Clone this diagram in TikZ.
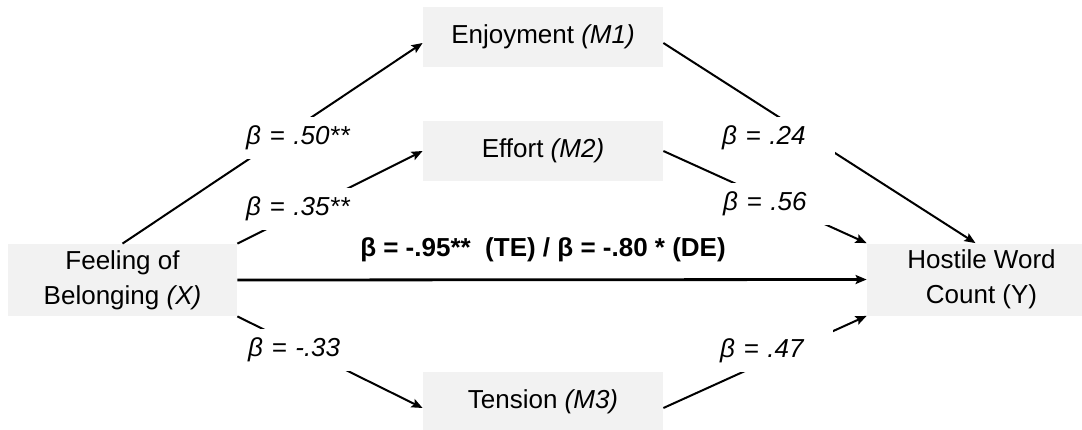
\documentclass[tikz,border=0pt]{standalone}
\usepackage{fontspec}
\setmainfont{Liberation Sans}
\usetikzlibrary{arrows.meta,calc}
\definecolor{boxGray}{HTML}{F2F2F2}
\tikzset{
  % Variable boxes: flat grey patch, no outline.
  med/box/.style={
    fill=boxGray, draw=none, inner sep=0pt, align=center,
    font=\fontsize{13}{17.5}\selectfont, text=black
  },
  % Paths between the variables.
  med/arrow/.style={
    -{Stealth[length=5.5pt,width=4.5pt,inset=1pt]}, line width=1pt, draw=black
  },
  % Coefficients sit on a white patch that breaks the path under them.
  med/coef/.style={
    fill=white, inner xsep=1.5pt, inner ysep=0pt, minimum height=21pt,
    text width=55pt, align=left, font=\fontsize{13}{15}\selectfont\itshape
  },
}

\begin{document}
\begin{tikzpicture}[x=0.5pt,y=-0.5pt,
  var/.style={med/box, minimum width=114.5pt, minimum height=36pt},
  mdr/.style={med/box, minimum width=120pt, minimum height=30pt},
  total/.style={inner sep=0pt, font=\fontsize{13}{15}\selectfont\bfseries}]
  \useasboundingbox (0,0) rectangle (1082,429);

  \node[var] (x) at (122.5,280) {Feeling of\\Belonging \textit{(X)}};
  \node[var] (y) at (981.5,279.5) {Hostile Word\\Count (Y)};
  \node[mdr] (m1) at (543,37) {Enjoyment \textit{(M1)}};
  \node[mdr] (m2) at (543,151) {Effort \textit{(M2)}};
  \node[mdr] (m3) at (543,402) {Tension \textit{(M3)}};

  % a paths
  \draw[med/arrow] (x.north) -- ($(m1.west)+(0,6)$);
  \draw[med/arrow] (x.north east) -- (m2.west);
  \draw[med/arrow] (x.south east) -- ($(m3.west)+(0,6)$);
  % b paths
  \draw[med/arrow] ($(m1.east)+(0,6)$) -- ($(y.north)+(-6,0)$);
  \draw[med/arrow] (m2.east) -- (y.north west);
  \draw[med/arrow] ($(m3.east)+(0,6)$) -- (y.south west);
  % c path
  \draw[med/arrow, line width=1.4pt] (x.east) -- (y.west);
  \node[total] (te) at (543,250) {β = -.95**~~(TE) / β = -.80 * (DE)};

  \node[med/coef] (a1) at (301,138) {β = .50**};
  \node[med/coef] (a2) at (301,209) {β = .35**};
  \node[med/coef] (a3) at (303,350) {β = -.33};
  \node[med/coef] (b1) at (777,138) {β = .24};
  \node[med/coef] (b2) at (778,204) {β = .56};
  \node[med/coef] (b3) at (775,351) {β = .47};
\end{tikzpicture}
\end{document}
